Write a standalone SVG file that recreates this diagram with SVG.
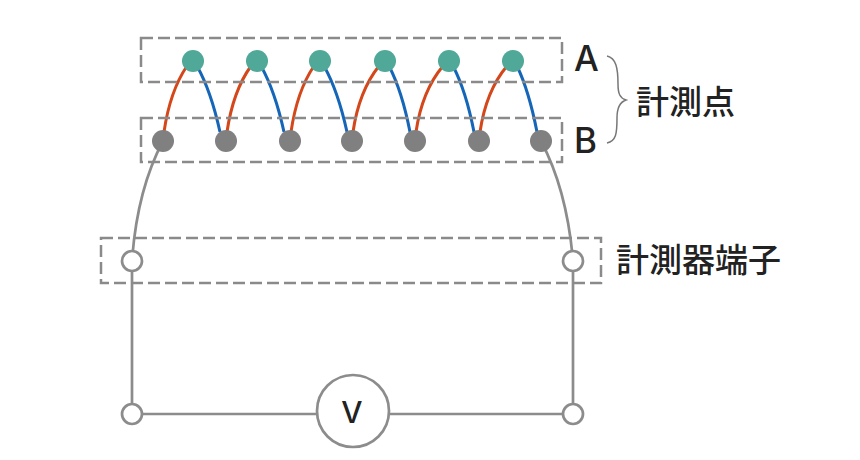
<svg xmlns="http://www.w3.org/2000/svg" width="860" height="460" viewBox="0 0 860 460">
<style>
.box{fill:none;stroke:#8a8a8a;stroke-width:2.5;stroke-dasharray:12 5}
.r{fill:none;stroke:#d4471b;stroke-width:3}
.b{fill:none;stroke:#1565b8;stroke-width:3}
.g{fill:none;stroke:#8c8c8c;stroke-width:2.7}
.a{fill:#50a898}
.d{fill:#808080}
.o{fill:#fff;stroke:#8c8c8c;stroke-width:2.7}
text{fill:#222;font-family:"Noto Sans CJK JP","Noto Sans",sans-serif;font-weight:500}
.l{font-size:35px;font-family:Inter,"Noto Sans CJK JP",sans-serif;font-weight:500}
.j{font-size:33px}
</style>
<g id="connectors">
<path class="r" d="M164 132Q170 91 187 66"/>
<path class="b" d="M197 66Q211 91 220 132"/>
<path class="r" d="M227 132Q233 91 251 66"/>
<path class="b" d="M261 66Q275 91 284 132"/>
<path class="r" d="M291 132Q297 91 314 66"/>
<path class="b" d="M324 66Q338 91 347 132"/>
<path class="r" d="M353 132Q359 91 379 66"/>
<path class="b" d="M389 66Q402 91 410 132"/>
<path class="r" d="M416 132Q422 91 443 66"/>
<path class="b" d="M453 66Q466 91 474 132"/>
<path class="r" d="M480 132Q486 91 507 66"/>
<path class="b" d="M517 66Q529 91 537 132"/>
<path class="g" d="M163 141Q137 190 132 261V414H353"/>
<path class="g" d="M541 141Q567 190 573 261V414H353"/>
<path d="M607 56C616 58 618 68 618 84C618 94 620 98 626 100C620 102 617 108 617 118C617 134 616 141 607 143" fill="none" stroke="#777" stroke-width="1.5"/>
</g>
<g id="zone-a"><rect class="box" x="141" y="38" width="421" height="44"/></g>
<g id="zone-b"><rect class="box" x="141" y="118" width="421" height="44"/></g>
<g id="zone-terminal"><rect class="box" x="101" y="238" width="500" height="45"/></g>
<g id="points-a">
<circle class="a" cx="193" cy="61" r="11"/><circle class="a" cx="257" cy="61" r="11"/><circle class="a" cx="320" cy="61" r="11"/><circle class="a" cx="385" cy="61" r="11"/><circle class="a" cx="449" cy="61" r="11"/><circle class="a" cx="513" cy="61" r="11"/>
</g>
<g id="points-b">
<circle class="d" cx="163" cy="141" r="11"/><circle class="d" cx="226" cy="141" r="11"/><circle class="d" cx="290" cy="141" r="11"/><circle class="d" cx="352" cy="141" r="11"/><circle class="d" cx="415" cy="141" r="11"/><circle class="d" cx="479" cy="141" r="11"/><circle class="d" cx="541" cy="141" r="11"/>
</g>
<g id="terminal-left"><circle class="o" cx="132" cy="261" r="10"/></g>
<g id="terminal-right"><circle class="o" cx="573" cy="261" r="10"/></g>
<g id="junction-left"><circle class="o" cx="132" cy="414" r="10"/></g>
<g id="junction-right"><circle class="o" cx="573" cy="414" r="10"/></g>
<g id="voltmeter"><circle class="o" cx="353" cy="411" r="36"/><text x="352" y="423" text-anchor="middle" style="font-size:30px;font-family:Inter,sans-serif;font-weight:500">V</text></g>
<g id="labels">
<text class="l" x="574" y="71">A</text>
<text class="l" x="574" y="153">B</text>
<text class="j" x="636" y="114">計測点</text>
<text class="j" x="616" y="272">計測器端子</text>
</g>
</svg>
